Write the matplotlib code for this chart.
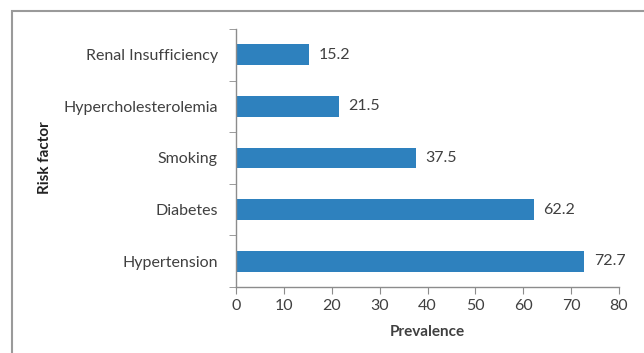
import numpy as np
import matplotlib.pyplot as plt
from matplotlib.patches import Rectangle

factors = ['Hypertension', 'Diabetes', 'Smoking', 'Hypercholesterolemia', 'Renal Insufficiency']
prevalence = [72.7, 62.2, 37.5, 21.5, 15.2]

plt.rcParams['font.family'] = ['Lato', 'DejaVu Sans']

fig = plt.figure(figsize=(6.44, 3.53), dpi=100)
ax = fig.add_axes([236 / 644, 1 - 287 / 353, (619 - 236) / 644, (287 - 29) / 353])

# frame around the chart area (only top and left visible)
fig.patches.append(Rectangle((12 / 644, -0.1), 1.2, 1 - 11 / 353 + 0.1,
                             transform=fig.transFigure, fill=False,
                             edgecolor='#9a9a9a', linewidth=1.5))

pos = np.arange(len(factors))
bars = ax.barh(pos, prevalence, height=0.4, color='#2E81BE')
for y, v in zip(pos, prevalence):
    ax.annotate(f'{v}', (v, y), xytext=(7, 0), textcoords='offset points',
                va='center', ha='left', fontsize=11.5, color='#404040')

ax.set_xlim(0, 80)
ax.set_ylim(-0.5, len(factors) - 0.5)
ax.set_xticks(range(0, 81, 10))
ax.set_yticks(pos)
ax.set_yticklabels(factors)
ax.set_yticks(np.arange(-0.5, len(factors), 1), minor=True)

for s in ['top', 'right']:
    ax.spines[s].set_visible(False)
for s in ['left', 'bottom']:
    ax.spines[s].set_color('#8c8c8c')
    ax.spines[s].set_linewidth(1)

ax.tick_params(axis='y', which='major', length=0, pad=13, labelsize=11.5, labelcolor='#404040')
ax.tick_params(axis='y', which='minor', length=5, color='#8c8c8c')
ax.tick_params(axis='x', length=5, color='#8c8c8c', labelsize=11.5, labelcolor='#404040', pad=4)

ax.set_xlabel('Prevalence', fontsize=11, fontweight='bold', color='#404040', labelpad=8)
ax.set_ylabel('Risk factor', fontsize=11, fontweight='bold', color='#222222', labelpad=8)

fig.savefig('out.png', dpi=100)
